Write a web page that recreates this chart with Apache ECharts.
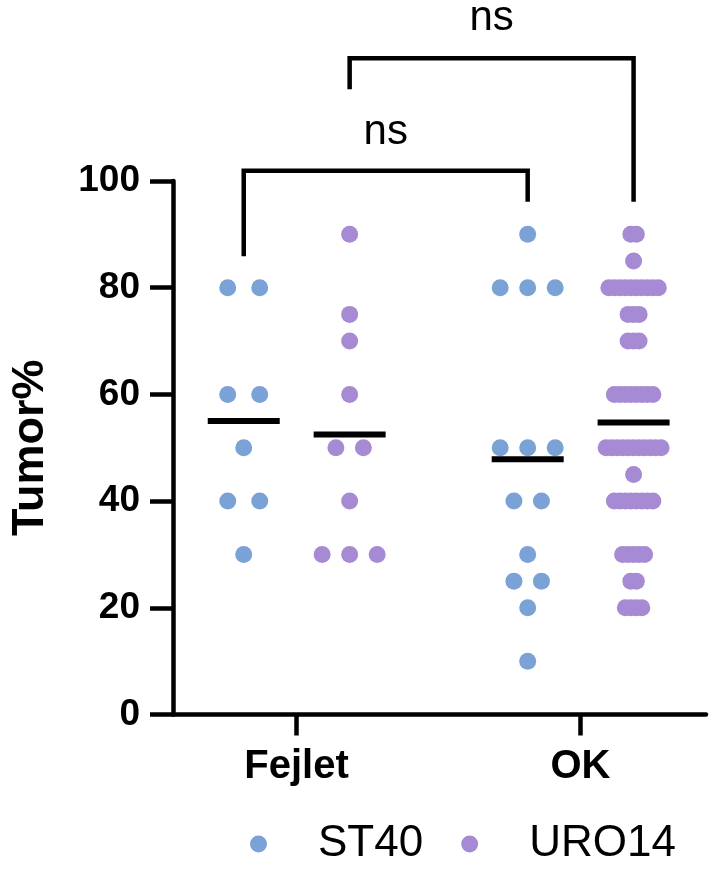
<!DOCTYPE html>
<html>
<head>
<meta charset="utf-8">
<script src="https://cdn.jsdelivr.net/npm/echarts@6/dist/echarts.min.js"></script>
<style>
  html, body { margin: 0; padding: 0; background: #fff; }
  #chart { width: 719px; height: 872px; }
</style>
</head>
<body>
<div id="chart"></div>
<script>
// ---------- data ----------
const groups = ['Fejlet', 'OK'];
const seriesNames = ['ST40', 'URO14'];
const yTicks = [0, 20, 40, 60, 80, 100];

const st40Fejlet  = [80, 80, 60, 60, 50, 40, 40, 30];
const uro14Fejlet = [90, 75, 70, 60, 50, 50, 40, 30, 30, 30];
const st40OK      = [90, 80, 80, 80, 50, 50, 50, 40, 40, 30, 25, 25, 20, 10];
const uro14OK     = [90, 90, 85,
                     80, 80, 80, 80, 80, 80, 80, 80, 80, 80,
                     75, 75, 75, 70, 70, 70,
                     60, 60, 60, 60, 60, 60, 60, 60,
                     50, 50, 50, 50, 50, 50, 50, 50, 50, 50, 50,
                     45,
                     40, 40, 40, 40, 40, 40, 40, 40,
                     30, 30, 30, 30, 30, 25, 25,
                     20, 20, 20, 20];

// significance brackets: [left group, left series, right group, right series]
const bracketPairs  = [[0, 0, 1, 0], [0, 1, 1, 1]];
// [top, left foot, right foot, label y]
const bracketLevels = [[101.9, 85.9, 96.1, 109.1], [123.0, 117.2, 96.1, 130.5]];
const bracketLabels = ['ns', 'ns'];

// ---------- layout (styles / positions, not data) ----------
const colors = ['#7ba2d6', '#a68bd4'];
const subOffset = [-0.186, 0.187];            // series offset within group (x units)
const colSpacing = [[32, 27.5], [27.5, 5.5]]; // beeswarm spacing in px [group][series]
const FONT = '"Liberation Sans", Arial, Helvetica, sans-serif';
const xMin = 0.5649, xMax = 2.442;
const LW = 4.5;

const columns = [[st40Fejlet, uro14Fejlet], [st40OK, uro14OK]];

function swarm(values, g, s) {
  const counts = {}, seen = {};
  values.forEach(v => { counts[v] = (counts[v] || 0) + 1; });
  const sp = colSpacing[g][s];
  return values.map(v => {
    const i = seen[v] || 0; seen[v] = i + 1;
    const dx = (i - (counts[v] - 1) / 2) * sp;
    return { value: [g + 1 + subOffset[s], v], symbolOffset: [dx, 0] };
  });
}

const pointSeries = seriesNames.map((name, s) => ({
  name: name,
  type: 'scatter',
  symbol: 'circle',
  symbolSize: 17,
  itemStyle: { color: colors[s], opacity: 1 },
  data: [].concat(swarm(columns[0][s], 0, s), swarm(columns[1][s], 1, s)),
  z: 2
}));

const meanData = [];
columns.forEach((cols, g) => cols.forEach((vals, s) => {
  const m = vals.reduce((a, b) => a + b, 0) / vals.length;
  meanData.push([g + 1 + subOffset[s], m]);
}));

const bracketData = bracketPairs.map((p, i) => [
  p[0] + 1 + subOffset[p[1]], p[2] + 1 + subOffset[p[3]],
  bracketLevels[i][0], bracketLevels[i][1], bracketLevels[i][2], bracketLevels[i][3], i
]);

const chart = echarts.init(document.getElementById('chart'), null, { renderer: 'canvas' });
chart.setOption({
  animation: false,
  backgroundColor: '#fff',
  grid: { left: 171, right: 13, top: 181, bottom: 157.5, containLabel: false },
  legend: {
    data: seriesNames,
    left: 250, top: 821,
    itemWidth: 17, itemHeight: 17,
    itemGap: 38,
    padding: 0,
    icon: 'circle',
    textStyle: { fontFamily: FONT, fontSize: 44, color: '#000', padding: [0, 0, 0, 46], lineHeight: 46 }
  },
  xAxis: {
    type: 'value', min: xMin, max: xMax,
    splitLine: { show: false },
    axisLine: { show: true, onZero: false, lineStyle: { color: '#000', width: LW } },
    axisTick: { show: true, customValues: [1, 2], length: 21, lineStyle: { color: '#000', width: LW } },
    axisLabel: {
      show: true, customValues: [1, 2], margin: 32,
      formatter: v => groups[Math.round(v) - 1] || '',
      fontFamily: FONT, fontSize: 40, fontWeight: 'bold', color: '#000'
    }
  },
  yAxis: {
    type: 'value', min: yTicks[0], max: yTicks[yTicks.length - 1], interval: 20,
    name: 'Tumor%', nameLocation: 'middle', nameGap: 120, nameRotate: 90,
    nameTextStyle: { fontFamily: FONT, fontSize: 45, fontWeight: 'bold', color: '#000' },
    splitLine: { show: false },
    axisLine: { show: true, onZero: false, lineStyle: { color: '#000', width: LW } },
    axisTick: { show: true, length: 23, lineStyle: { color: '#000', width: LW } },
    axisLabel: { margin: 33, fontFamily: FONT, fontSize: 37, fontWeight: 'bold', color: '#000' }
  },
  series: pointSeries.concat([
    {
      name: 'mean', type: 'scatter', symbol: 'rect', symbolSize: [72, 6],
      itemStyle: { color: '#000', opacity: 1 }, data: meanData, z: 5, silent: true
    },
    {
      name: 'brackets', type: 'custom', silent: true, clip: false, z: 6,
      data: bracketData,
      renderItem: function (params, api) {
        const x1 = api.value(0), x2 = api.value(1);
        const top = api.value(2), f1 = api.value(3), f2 = api.value(4), ly = api.value(5);
        const idx = api.value(6);
        const a = api.coord([x1, f1]), b = api.coord([x1, top]);
        const c = api.coord([x2, top]), d = api.coord([x2, f2]);
        const t = api.coord([(x1 + x2) / 2, ly]);
        return {
          type: 'group',
          children: [
            { type: 'polyline', shape: { points: [a, b, c, d] },
              style: { stroke: '#000', lineWidth: LW, fill: null, lineJoin: 'miter' } },
            { type: 'text', style: { text: bracketLabels[idx], x: t[0], y: t[1],
              align: 'center', verticalAlign: 'middle', fontSize: 42, fontFamily: FONT, fill: '#000' } }
          ]
        };
      }
    }
  ])
});
</script>
</body>
</html>
